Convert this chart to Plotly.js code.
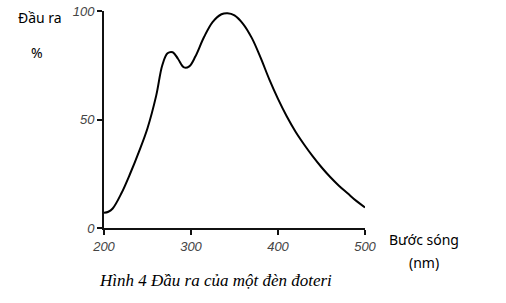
<!DOCTYPE html>
<html>
<head>
<meta charset="utf-8">
<script src="https://cdn.plot.ly/plotly-3.0.1.min.js"></script>
<style>html,body{margin:0;padding:0;background:#fff;}#chart{width:506px;height:303px;}</style>
</head>
<body>
<div id="chart"></div>
<script>
const wavelength = [200, 205, 210, 220, 230, 240, 250, 260, 267, 273, 279, 285, 292, 298, 305, 315, 325, 335, 342, 350, 360, 370, 380, 390, 400, 410, 420, 430, 440, 450, 460, 470, 480, 490, 500];
const output =     [7, 7.5, 9, 16, 25, 35, 46, 61, 75, 80.5, 81, 78, 74, 74.5, 79, 88, 95, 98.5, 99, 98, 94, 87.5, 78.5, 68.5, 59.5, 51.5, 44.5, 38.5, 33, 28, 23.5, 19.5, 16, 12.5, 9.5];
const xTicks = [200, 300, 400, 500];
const yTicks = [0, 50, 100];
const yLabel = ["Đầu ra", "%"];
const xLabel = ["Bước sóng", "(nm)"];
const caption = "Hình 4 Đầu ra của một đèn đoteri";

const tickFont = {family: "Liberation Sans, Arial, sans-serif", size: 13, color: "#444"};
const labelFont = {family: "Noto Sans, sans-serif", size: 14, color: "#000"};

const trace = {
  x: wavelength, y: output, type: "scatter", mode: "lines",
  line: {color: "#000", width: 2, shape: "spline", smoothing: 1},
  hoverinfo: "skip"
};

const layout = {
  width: 506, height: 303,
  margin: {l: 104, r: 141, t: 11, b: 75},
  paper_bgcolor: "#fff", plot_bgcolor: "#fff",
  showlegend: false,
  xaxis: {
    range: [200, 500], tickvals: xTicks, ticktext: xTicks.map(v => "<i>" + v + "</i>"),
    showgrid: false, zeroline: false, showline: true, linecolor: "#111", linewidth: 2,
    ticks: "outside", ticklen: 5, tickwidth: 2, tickcolor: "#111", tickfont: tickFont
  },
  yaxis: {
    range: [0, 100], tickvals: yTicks, ticktext: yTicks.map(v => "<i>" + v + "</i>"),
    showgrid: false, zeroline: false, showline: true, linecolor: "#111", linewidth: 2,
    ticks: "outside", ticklen: 5, tickwidth: 2, tickcolor: "#111", tickfont: tickFont
  },
  annotations: [
    {text: yLabel[0], xref: "paper", yref: "paper", x: -0.245, y: 0.968, showarrow: false, font: labelFont, xanchor: "center", yanchor: "middle"},
    {text: yLabel[1], xref: "paper", yref: "paper", x: -0.257, y: 0.811, showarrow: false, font: labelFont, xanchor: "center", yanchor: "middle"},
    {text: xLabel[0], xref: "paper", yref: "paper", x: 1.226, y: -0.055, showarrow: false, font: labelFont, xanchor: "center", yanchor: "middle"},
    {text: xLabel[1], xref: "paper", yref: "paper", x: 1.226, y: -0.157, showarrow: false, font: labelFont, xanchor: "center", yanchor: "middle"},
    {text: "<i>" + caption + "</i>", xref: "paper", yref: "paper", x: 0.429, y: -0.244, showarrow: false,
     font: {family: "Liberation Serif, Times New Roman, serif", size: 17, color: "#000"}, xanchor: "center", yanchor: "middle"}
  ]
};

Plotly.newPlot("chart", [trace], layout, {staticPlot: true, displayModeBar: false});
</script>
</body>
</html>
